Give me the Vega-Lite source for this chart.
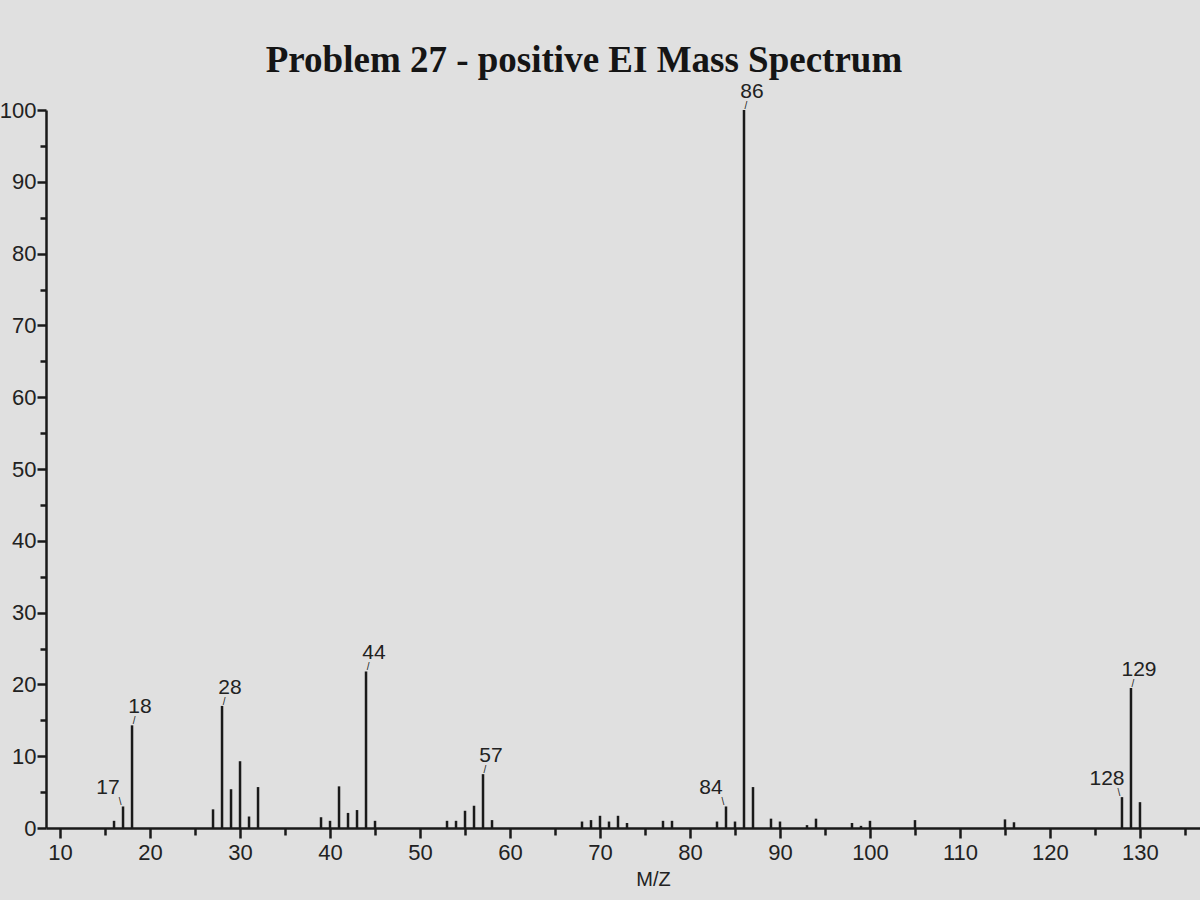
{
  "$schema": "https://vega.github.io/schema/vega-lite/v6.json",
  "autosize": "none",
  "width": 1154,
  "height": 718,
  "padding": {"left": 46, "top": 110, "right": 0, "bottom": 72},
  "background": "#e0e0e0",
  "title": {
    "text": "Problem 27 - positive EI Mass Spectrum",
    "font": "Liberation Serif",
    "fontSize": 37,
    "fontWeight": "bold",
    "color": "#151515",
    "anchor": "middle",
    "dx": -39,
    "offset": 1
  },
  "config": {
    "view": {"stroke": null},
    "axis": {
      "domainColor": "#1a1a1a",
      "domainWidth": 2.5,
      "tickColor": "#1a1a1a",
      "tickWidth": 2.5,
      "labelFont": "Liberation Sans",
      "labelFontSize": 22,
      "labelColor": "#222222",
      "titleFont": "Liberation Sans",
      "titleFontSize": 20,
      "titleFontWeight": "normal",
      "titleColor": "#222222",
      "grid": false
    }
  },
  "data": {
    "values": [
      {"mz": 16, "intensity": 1.0},
      {"mz": 17, "intensity": 3.0},
      {"mz": 18, "intensity": 14.3},
      {"mz": 27, "intensity": 2.6},
      {"mz": 28, "intensity": 17.0},
      {"mz": 29, "intensity": 5.4},
      {"mz": 30, "intensity": 9.3},
      {"mz": 31, "intensity": 1.6},
      {"mz": 32, "intensity": 5.7},
      {"mz": 39, "intensity": 1.5},
      {"mz": 40, "intensity": 1.0},
      {"mz": 41, "intensity": 5.8},
      {"mz": 42, "intensity": 2.1},
      {"mz": 43, "intensity": 2.5},
      {"mz": 44, "intensity": 21.8},
      {"mz": 45, "intensity": 1.0},
      {"mz": 53, "intensity": 1.0},
      {"mz": 54, "intensity": 1.0},
      {"mz": 55, "intensity": 2.4},
      {"mz": 56, "intensity": 3.1},
      {"mz": 57, "intensity": 7.5},
      {"mz": 58, "intensity": 1.1},
      {"mz": 68, "intensity": 0.9},
      {"mz": 69, "intensity": 1.1},
      {"mz": 70, "intensity": 1.7},
      {"mz": 71, "intensity": 0.9},
      {"mz": 72, "intensity": 1.7},
      {"mz": 73, "intensity": 0.7},
      {"mz": 77, "intensity": 1.0},
      {"mz": 78, "intensity": 1.0},
      {"mz": 83, "intensity": 0.9},
      {"mz": 84, "intensity": 3.0},
      {"mz": 85, "intensity": 0.9},
      {"mz": 86, "intensity": 100},
      {"mz": 87, "intensity": 5.7},
      {"mz": 89, "intensity": 1.3},
      {"mz": 90, "intensity": 0.9},
      {"mz": 93, "intensity": 0.4},
      {"mz": 94, "intensity": 1.3},
      {"mz": 98, "intensity": 0.7},
      {"mz": 99, "intensity": 0.3},
      {"mz": 100, "intensity": 1.0},
      {"mz": 105, "intensity": 1.1},
      {"mz": 115, "intensity": 1.2},
      {"mz": 116, "intensity": 0.8},
      {"mz": 128, "intensity": 4.3},
      {"mz": 129, "intensity": 19.5},
      {"mz": 130, "intensity": 3.6}
    ]
  },
  "encoding": {
    "x": {
      "field": "mz",
      "type": "quantitative",
      "scale": {"domain": [8.44, 136.67], "nice": false, "zero": false},
      "axis": {
        "title": "M/Z",
        "titleX": 607,
        "titlePadding": 6,
        "values": [10, 15, 20, 25, 30, 35, 40, 45, 50, 55, 60, 65, 70, 75, 80, 85, 90, 95, 100, 105, 110, 115, 120, 125, 130, 135],
        "labelExpr": "datum.value % 10 === 0 ? datum.label : ''",
        "tickSize": {"condition": {"test": "datum.value % 10 === 0", "value": 10}, "value": 7},
        "labelPadding": 4,
        "labelFlush": false,
        "labelOverlap": false
      }
    },
    "y": {
      "field": "intensity",
      "type": "quantitative",
      "scale": {"domain": [0, 100], "nice": false},
      "axis": {
        "title": null,
        "values": [0, 5, 10, 15, 20, 25, 30, 35, 40, 45, 50, 55, 60, 65, 70, 75, 80, 85, 90, 95, 100],
        "labelExpr": "datum.value % 10 === 0 ? datum.label : ''",
        "tickSize": {"condition": {"test": "datum.value % 10 === 0", "value": 9}, "value": 6},
        "labelPadding": 1,
        "labelFlush": false,
        "labelOverlap": false
      }
    }
  },
  "layer": [
    {
      "mark": {"type": "rule", "color": "#1a1a1a", "strokeWidth": 2.5},
      "encoding": {"y2": {"datum": 0}}
    },
    {
      "transform": [{"filter": {"field": "mz", "oneOf": [18, 28, 44, 57, 86, 129]}}],
      "mark": {"type": "text", "font": "Liberation Sans", "fontSize": 21, "color": "#222222", "baseline": "bottom", "align": "center", "dx": 8, "dy": -8},
      "encoding": {"text": {"field": "mz", "type": "quantitative"}}
    },
    {
      "transform": [{"filter": {"field": "mz", "oneOf": [18, 28, 44, 57, 86, 129]}}],
      "mark": {"type": "text", "font": "Liberation Sans", "fontSize": 10, "color": "#222222", "baseline": "bottom", "align": "center", "dx": 2, "dy": 1},
      "encoding": {"text": {"value": "/"}}
    },
    {
      "transform": [{"filter": {"field": "mz", "oneOf": [17, 84, 128]}}],
      "mark": {"type": "text", "font": "Liberation Sans", "fontSize": 21, "color": "#222222", "baseline": "bottom", "align": "center", "dx": -15, "dy": -8},
      "encoding": {"text": {"field": "mz", "type": "quantitative"}}
    },
    {
      "transform": [{"filter": {"field": "mz", "oneOf": [17, 84, 128]}}],
      "mark": {"type": "text", "font": "Liberation Sans", "fontSize": 10, "color": "#222222", "baseline": "bottom", "align": "center", "dx": -3, "dy": 1},
      "encoding": {"text": {"value": "\\"}}
    }
  ]
}
